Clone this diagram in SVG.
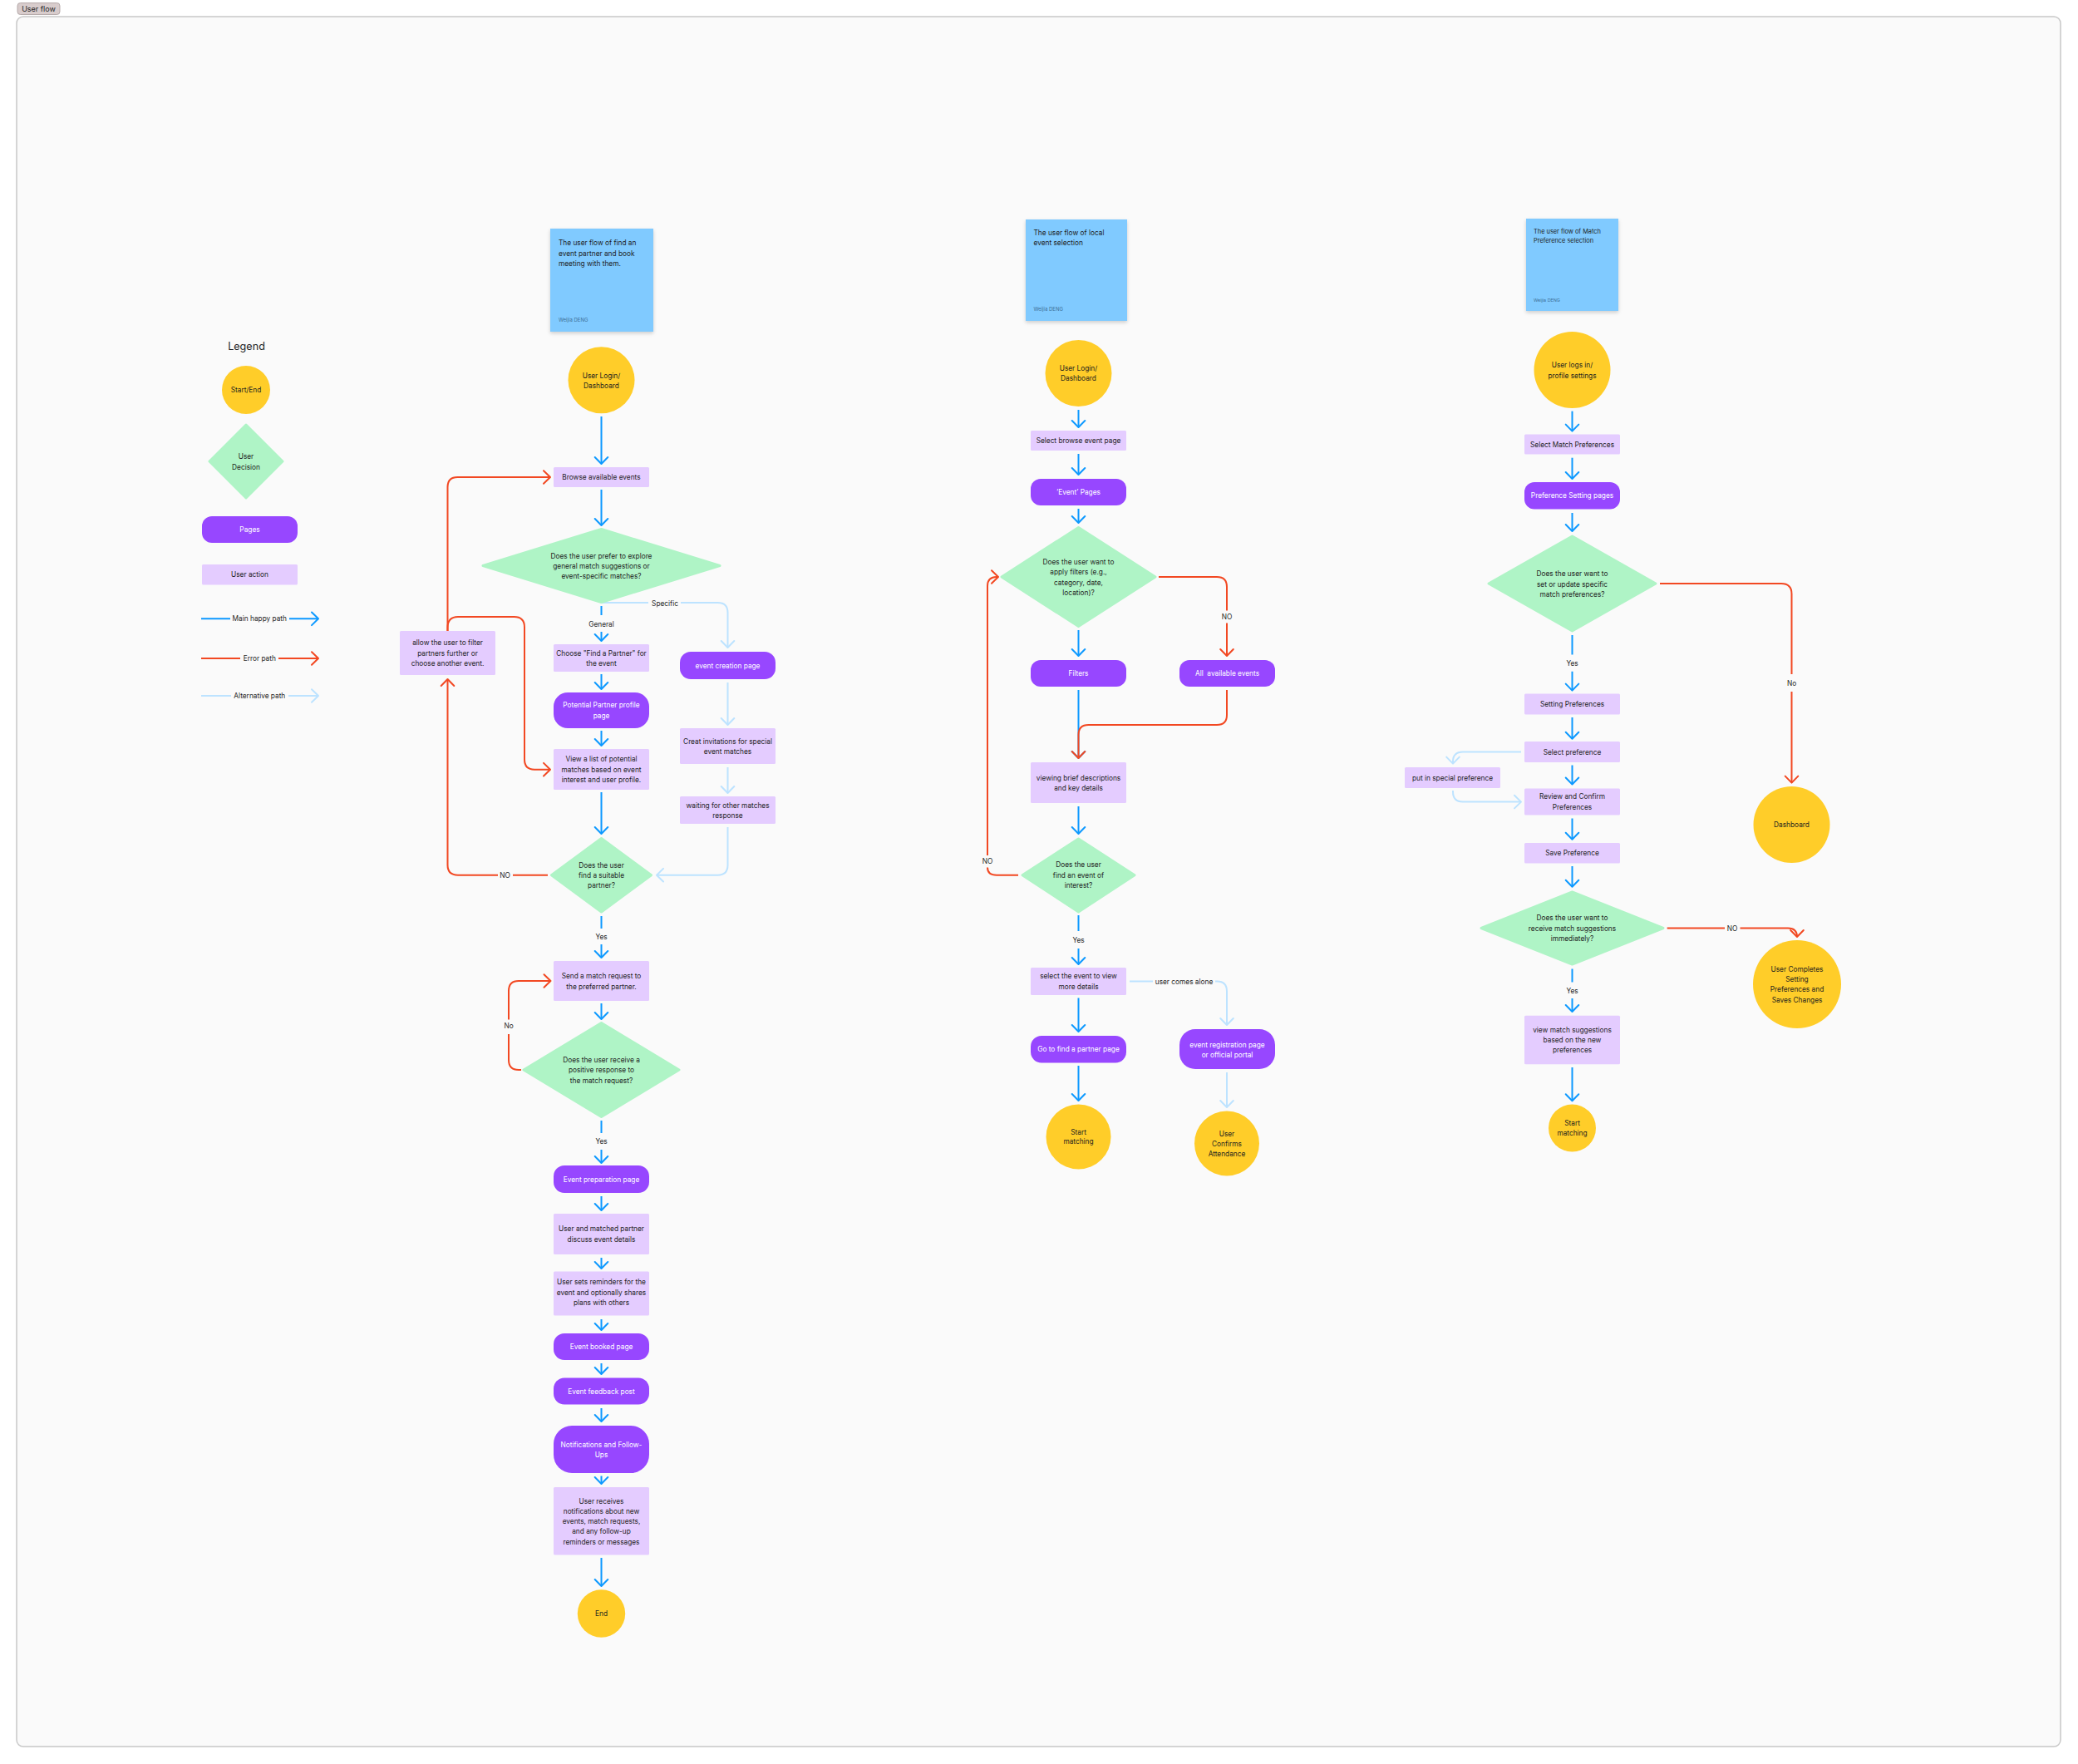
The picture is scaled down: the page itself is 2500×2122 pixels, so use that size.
<svg xmlns="http://www.w3.org/2000/svg" width="2500" height="2122" viewBox="0 0 2500 2122">
<defs>
<style>
.t{font-family:Inter,"Noto Sans","Liberation Sans",sans-serif;font-size:8.3px;fill:#1e1e1e;text-anchor:middle}
.tw{fill:#ffffff}
.tl{text-anchor:start}
.sig{font-size:6px;fill:#3d6f96;text-anchor:start}
.ua{fill:#e4ccff}
.pg{fill:#9747ff}
.se{fill:#ffcd29}
.dc{fill:#aff4c6;stroke:#aff4c6;stroke-width:3;stroke-linejoin:round}
.st{fill:#80caff;filter:url(#sh)}
.cb{fill:none;stroke:#0d99ff;stroke-width:2;marker-end:url(#mb)}
.cr{fill:none;stroke:#f24822;stroke-width:2;marker-end:url(#mr)}
.cl{fill:none;stroke:#bde3ff;stroke-width:2;marker-end:url(#ml)}
.nb{fill:none;stroke:#0d99ff;stroke-width:2}
.nr{fill:none;stroke:#f24822;stroke-width:2}
.nl{fill:none;stroke:#bde3ff;stroke-width:2}
</style>
<filter id="sh" x="-20%" y="-20%" width="140%" height="150%"><feDropShadow dx="0" dy="2" stdDeviation="2" flood-color="#000" flood-opacity="0.18"/></filter>
<marker id="mb" viewBox="-10 -10 20 20" markerWidth="20" markerHeight="20" refX="0" refY="0" orient="auto" markerUnits="userSpaceOnUse"><path d="M-8,-7.8 L0,0 L-8,7.8" fill="none" stroke="#0d99ff" stroke-width="2" stroke-linecap="round" stroke-linejoin="round"/></marker>
<marker id="mr" viewBox="-10 -10 20 20" markerWidth="20" markerHeight="20" refX="0" refY="0" orient="auto" markerUnits="userSpaceOnUse"><path d="M-8,-7.8 L0,0 L-8,7.8" fill="none" stroke="#f24822" stroke-width="2" stroke-linecap="round" stroke-linejoin="round"/></marker>
<marker id="ml" viewBox="-10 -10 20 20" markerWidth="20" markerHeight="20" refX="0" refY="0" orient="auto" markerUnits="userSpaceOnUse"><path d="M-8,-7.8 L0,0 L-8,7.8" fill="none" stroke="#bde3ff" stroke-width="2" stroke-linecap="round" stroke-linejoin="round"/></marker>
</defs>
<rect x="0" y="0" width="2500" height="2122" fill="#ffffff"/>
<g id="frame">
<rect x="20" y="20" width="2459" height="2081" rx="8" fill="#fafafa" stroke="#c8c8c8" stroke-width="1.5"/>
<rect x="21" y="3.5" width="51" height="14" rx="3.5" fill="#d8cccc" stroke="#a89c9c" stroke-width="0.8"/>
<text class="t" x="46.5" y="13.6" style="font-size:9px">User flow</text>
</g>

<g id="legend">
<text class="t" x="296.5" y="421" style="font-size:12.6px">Legend</text>
<circle class="se" cx="296" cy="469" r="29"/>
<text class="t" x="296" y="472">Start/End</text>
<polygon class="dc" points="296,511 340,555 296,599 252,555"/>
<text class="t" x="296"><tspan x="296" y="552">User</tspan><tspan x="296" y="564.5">Decision</tspan></text>
<rect class="pg" x="243" y="621" width="115" height="32" rx="12"/>
<text class="t tw" x="300.5" y="640">Pages</text>
<rect class="ua" x="243" y="679" width="115" height="24.5" rx="1.5"/>
<text class="t" x="300.5" y="694">User action</text>
<path class="nb" d="M242,744.3 L277,744.3"/>
<path class="cb" d="M348,744.3 L383,744.3"/>
<text class="t" x="312.3" y="747.3">Main happy path</text>
<path class="nr" d="M242,792 L289,792"/>
<path class="cr" d="M335,792 L383,792"/>
<text class="t" x="312.3" y="795">Error path</text>
<path class="nl" d="M242,837 L278,837"/>
<path class="cl" d="M347,837 L383,837"/>
<text class="t" x="312.3" y="840">Alternative path</text>
</g>

<g id="connectors">
<!-- flow 1 -->
<path class="cb" d="M723.5,501 L723.5,558"/>
<path class="cb" d="M723.5,589 L723.5,632"/>
<path class="cb" d="M723.5,729 L723.5,740 M723.5,760 L723.5,771"/>
<path class="cl" d="M723.5,725 L780,725 M819,725 L863.5,725 Q875.5,725 875.5,737 L875.5,779"/>
<path class="cb" d="M723.5,811 L723.5,829"/>
<path class="cb" d="M723.5,879 L723.5,897"/>
<path class="cb" d="M723.5,953 L723.5,1003"/>
<path class="cl" d="M875.5,821 L875.5,872"/>
<path class="cl" d="M875.5,923 L875.5,954"/>
<path class="cl" d="M875.5,995 L875.5,1040.5 Q875.5,1052.7 863.5,1052.7 L790,1052.7"/>
<path class="cr" d="M659,1052.7 L617,1052.7 M599,1052.7 L551,1052.7 Q538.5,1052.7 538.5,1040.5 L538.5,817"/>
<path class="cr" d="M538.5,759 L538.5,586 Q538.5,574 550.5,574 L662,574"/>
<path class="cr" d="M538.5,759 L538.5,755 Q538.5,742 551,742 L618.5,742 Q631,742 631,754.5 L631,913.5 Q631,925.7 643,925.7 L662,925.7"/>
<path class="cb" d="M723.5,1102 L723.5,1117 M723.5,1136 L723.5,1152"/>
<path class="cb" d="M723.5,1207 L723.5,1226"/>
<path class="cr" d="M627,1287 L624,1287 Q612,1287 612,1275 L612,1244 M612,1226.5 L612,1192 Q612,1180 624,1180 L662.5,1180"/>
<path class="cb" d="M723.5,1348 L723.5,1363 M723.5,1383 L723.5,1399"/>
<path class="cb" d="M723.5,1439 L723.5,1456"/>
<path class="cb" d="M723.5,1513 L723.5,1526"/>
<path class="cb" d="M723.5,1587 L723.5,1600"/>
<path class="cb" d="M723.5,1640 L723.5,1653"/>
<path class="cb" d="M723.5,1694 L723.5,1710"/>
<path class="cb" d="M723.5,1775.5 L723.5,1785"/>
<path class="cb" d="M723.5,1874 L723.5,1908"/>
<!-- flow 2 -->
<path class="cb" d="M1297.5,493 L1297.5,514"/>
<path class="cb" d="M1297.5,546 L1297.5,571"/>
<path class="cb" d="M1297.5,612 L1297.5,629"/>
<path class="cb" d="M1297.5,758 L1297.5,789"/>
<path class="cr" d="M1394,694 L1464,694 Q1476,694 1476,706 L1476,734.5 M1476,749.5 L1476,789"/>
<path class="cb" d="M1297.5,830 L1297.5,912"/>
<path class="cr" d="M1476,830 L1476,860 Q1476,872 1464,872 L1309.5,872 Q1297.5,872 1297.5,884 L1297.5,912"/>
<path class="cb" d="M1297.5,970 L1297.5,1003"/>
<path class="cr" d="M1225,1052.7 L1199,1052.7 Q1188,1052.7 1188,1043.5 M1188,1029 L1188,705 Q1188,694 1199,694 L1201,694"/>
<path class="cb" d="M1297.5,1101 L1297.5,1120 M1297.5,1141 L1297.5,1160"/>
<path class="cl" d="M1359,1180.5 L1387,1180.5 M1462,1180.5 L1464,1180.5 Q1476,1180.5 1476,1192.5 L1476,1233"/>
<path class="cb" d="M1297.5,1200.5 L1297.5,1241"/>
<path class="cb" d="M1297.5,1282 L1297.5,1324"/>
<path class="cl" d="M1476,1290 L1476,1332"/>
<!-- flow 3 -->
<path class="cb" d="M1891.5,494.6 L1891.5,518.6"/>
<path class="cb" d="M1891.5,550.7 L1891.5,576"/>
<path class="cb" d="M1891.5,617 L1891.5,639"/>
<path class="cr" d="M1997,702 L2143,702 Q2155.5,702 2155.5,714.5 L2155.5,811 M2155.5,832 L2155.5,941.6"/>
<path class="cb" d="M1891.5,764 L1891.5,787.5 M1891.5,807.7 L1891.5,830.6"/>
<path class="cb" d="M1891.5,863 L1891.5,888.8"/>
<path class="cl" d="M1830,904.5 L1760,904.5 Q1748,904.5 1748,916 L1748,918.6"/>
<path class="cb" d="M1891.5,920.5 L1891.5,943.5"/>
<path class="cl" d="M1748,951 L1748,952.6 Q1748,964.6 1760,964.6 L1830,964.6"/>
<path class="cb" d="M1891.5,984.5 L1891.5,1009.7"/>
<path class="cb" d="M1891.5,1042 L1891.5,1066.7"/>
<path class="cr" d="M2005.7,1116.5 L2075,1116.5 M2093.5,1116.5 L2151,1116.5 Q2162,1116.5 2162,1127"/>
<path class="cb" d="M1891.5,1165.5 L1891.5,1181.5 M1891.5,1201 L1891.5,1217"/>
<path class="cb" d="M1891.5,1284 L1891.5,1324.3"/>
<!-- connector labels -->
<text class="t" x="723.5" y="753.7">General</text>
<text class="t" x="800" y="728.7">Specific</text>
<text class="t" x="607.5" y="1055.7">NO</text>
<text class="t" x="723.5" y="1129.7">Yes</text>
<text class="t" x="612" y="1237">No</text>
<text class="t" x="723.5" y="1376.3">Yes</text>
<text class="t" x="1476" y="744.8">NO</text>
<text class="t" x="1188" y="1039">NO</text>
<text class="t" x="1297.5" y="1134">Yes</text>
<text class="t" x="1424.5" y="1183.5">user comes alone</text>
<text class="t" x="2155.5" y="824.8">No</text>
<text class="t" x="1891.5" y="800.5">Yes</text>
<text class="t" x="2084" y="1119.5">NO</text>
<text class="t" x="1891.5" y="1194.5">Yes</text>
</g>

<!-- FLOW 1 -->
<g id="note1"><rect class="st" x="662" y="275" width="124" height="124"/>
<text class="t tl" x="672"><tspan x="672" y="295.3">The user flow of find an</tspan><tspan x="672" y="307.6">event partner and book</tspan><tspan x="672" y="319.9">meeting with them.</tspan></text>
<text class="t sig" x="672" y="386.5">Weijia DENG</text></g>
<g id="f1-start"><circle class="se" cx="723.5" cy="457.3" r="40"/>
<text class="t"><tspan x="723.5" y="455">User Login/</tspan><tspan x="723.5" y="467">Dashboard</tspan></text></g>
<g id="f1-browse"><rect class="ua" x="666" y="562" width="115" height="24" rx="1.5"/>
<text class="t" x="723.5" y="577">Browse available events</text></g>
<g id="f1-d1"><polygon class="dc" points="723.5,636.5 866,680.5 723.5,724.5 581,680.5"/>
<text class="t"><tspan x="723.5" y="671.7">Does the user prefer to explore</tspan><tspan x="723.5" y="684">general match suggestions or</tspan><tspan x="723.5" y="696.3">event-specific matches?</tspan></text></g>
<g id="f1-choose"><rect class="ua" x="666" y="775" width="115" height="33" rx="1.5"/>
<text class="t"><tspan x="723.5" y="788.7">Choose "Find a Partner" for</tspan><tspan x="723.5" y="801">the event</tspan></text></g>
<g id="f1-potential"><rect class="pg" x="666" y="833" width="115" height="43" rx="17"/>
<text class="t tw"><tspan x="723.5" y="851.3">Potential Partner profile</tspan><tspan x="723.5" y="864">page</tspan></text></g>
<g id="f1-viewlist"><rect class="ua" x="666" y="901" width="115" height="49" rx="1.5"/>
<text class="t"><tspan x="723.5" y="916.3">View a list of potential</tspan><tspan x="723.5" y="928.7">matches based on event</tspan><tspan x="723.5" y="940.7">interest and user profile.</tspan></text></g>
<g id="f1-allow"><rect class="ua" x="481" y="759" width="115" height="53" rx="1.5"/>
<text class="t"><tspan x="538.5" y="776.3">allow the user to filter</tspan><tspan x="538.5" y="788.7">partners further or</tspan><tspan x="538.5" y="801">choose another event.</tspan></text></g>
<g id="f1-creation"><rect class="pg" x="818" y="784" width="115" height="33" rx="13"/>
<text class="t tw" x="875.5" y="803.7">event creation page</text></g>
<g id="f1-invite"><rect class="ua" x="818" y="876" width="115" height="43" rx="1.5"/>
<text class="t"><tspan x="875.5" y="894.7">Creat invitations for special</tspan><tspan x="875.5" y="907">event matches</tspan></text></g>
<g id="f1-waiting"><rect class="ua" x="818" y="958" width="115" height="33" rx="1.5"/>
<text class="t"><tspan x="875.5" y="971.7">waiting for other matches</tspan><tspan x="875.5" y="984">response</tspan></text></g>
<g id="f1-d2"><polygon class="dc" points="723.5,1008.5 783.5,1052.7 723.5,1097 663.5,1052.7"/>
<text class="t"><tspan x="723.5" y="1043.7">Does the user</tspan><tspan x="723.5" y="1055.7">find a suitable</tspan><tspan x="723.5" y="1068.3">partner?</tspan></text></g>
<g id="f1-send"><rect class="ua" x="666" y="1156" width="115" height="48" rx="1.5"/>
<text class="t"><tspan x="723.5" y="1177">Send a match request to</tspan><tspan x="723.5" y="1190.3">the preferred partner.</tspan></text></g>
<g id="f1-d3"><polygon class="dc" points="723.5,1230.5 817,1287 723.5,1343.5 630,1287"/>
<text class="t"><tspan x="723.5" y="1278">Does the user receive a</tspan><tspan x="723.5" y="1290.3">positive response to</tspan><tspan x="723.5" y="1303">the match request?</tspan></text></g>
<g id="f1-prep"><rect class="pg" x="666" y="1402" width="115" height="33" rx="13"/>
<text class="t tw" x="723.5" y="1421.5">Event preparation page</text></g>
<g id="f1-discuss"><rect class="ua" x="666" y="1460" width="115" height="49" rx="1.5"/>
<text class="t"><tspan x="723.5" y="1481.4">User and matched partner</tspan><tspan x="723.5" y="1493.6">discuss event details</tspan></text></g>
<g id="f1-remind"><rect class="ua" x="666" y="1529.5" width="115" height="53" rx="1.5"/>
<text class="t"><tspan x="723.5" y="1545.4">User sets reminders for the</tspan><tspan x="723.5" y="1557.6">event and optionally shares</tspan><tspan x="723.5" y="1569.8">plans with others</tspan></text></g>
<g id="f1-booked"><rect class="pg" x="666" y="1604" width="115" height="32" rx="13"/>
<text class="t tw" x="723.5" y="1623">Event booked page</text></g>
<g id="f1-feedback"><rect class="pg" x="666" y="1657.5" width="115" height="32" rx="13"/>
<text class="t tw" x="723.5" y="1676.6">Event feedback post</text></g>
<g id="f1-notif"><rect class="pg" x="666" y="1715" width="115" height="57" rx="22"/>
<text class="t tw"><tspan x="723.5" y="1740.8">Notifications and Follow-</tspan><tspan x="723.5" y="1752.6">Ups</tspan></text></g>
<g id="f1-receives"><rect class="ua" x="666" y="1789" width="115" height="81.5" rx="1.5"/>
<text class="t"><tspan x="723.5" y="1808.8">User receives</tspan><tspan x="723.5" y="1821">notifications about new</tspan><tspan x="723.5" y="1833.2">events, match requests,</tspan><tspan x="723.5" y="1845.4">and any follow-up</tspan><tspan x="723.5" y="1857.6">reminders or messages</tspan></text></g>
<g id="f1-end"><circle class="se" cx="723.5" cy="1941" r="28.7"/>
<text class="t" x="723.5" y="1944">End</text></g>

<!-- FLOW 2 -->
<g id="note2"><rect class="st" x="1234" y="264" width="122" height="122"/>
<text class="t tl"><tspan x="1243.5" y="282.6">The user flow of local</tspan><tspan x="1243.5" y="295.1">event selection</tspan></text>
<text class="t sig" x="1243.5" y="374">Weijia DENG</text></g>
<g id="f2-start"><circle class="se" cx="1297.5" cy="449" r="40"/>
<text class="t"><tspan x="1297.5" y="446.2">User Login/</tspan><tspan x="1297.5" y="458.4">Dashboard</tspan></text></g>
<g id="f2-select"><rect class="ua" x="1240" y="518" width="115" height="24" rx="1.5"/>
<text class="t" x="1297.5" y="533">Select browse event page</text></g>
<g id="f2-eventpages"><rect class="pg" x="1240" y="576" width="115" height="32" rx="12"/>
<text class="t tw" x="1297.5" y="595">‘Event’ Pages</text></g>
<g id="f2-d1"><polygon class="dc" points="1297.5,634.5 1390,694 1297.5,753.5 1205,694"/>
<text class="t"><tspan x="1297.5" y="678.7">Does the user want to</tspan><tspan x="1297.5" y="691.2">apply filters (e.g.,</tspan><tspan x="1297.5" y="703.7">category, date,</tspan><tspan x="1297.5" y="715.9">location)?</tspan></text></g>
<g id="f2-filters"><rect class="pg" x="1240" y="794" width="115" height="32" rx="12"/>
<text class="t tw" x="1297.5" y="813">Filters</text></g>
<g id="f2-all"><rect class="pg" x="1419" y="794" width="115" height="32" rx="12"/>
<text class="t tw" x="1476.5" y="813">All&#160; available events</text></g>
<g id="f2-viewing"><rect class="ua" x="1240" y="917" width="115" height="49" rx="1.5"/>
<text class="t"><tspan x="1297.5" y="938.6">viewing brief descriptions</tspan><tspan x="1297.5" y="951.3">and key details</tspan></text></g>
<g id="f2-d2"><polygon class="dc" points="1297.5,1009 1365,1052.7 1297.5,1097 1230,1052.7"/>
<text class="t"><tspan x="1297.5" y="1043.4">Does the user</tspan><tspan x="1297.5" y="1055.6">find an event of</tspan><tspan x="1297.5" y="1068">interest?</tspan></text></g>
<g id="f2-selectevent"><rect class="ua" x="1240" y="1164" width="115" height="33" rx="1.5"/>
<text class="t"><tspan x="1297.5" y="1177">select the event to view</tspan><tspan x="1297.5" y="1189.7">more details</tspan></text></g>
<g id="f2-reg"><rect class="pg" x="1419" y="1238" width="115" height="48" rx="19"/>
<text class="t tw"><tspan x="1476.5" y="1259.7">event registration page</tspan><tspan x="1476.5" y="1272.4">or official portal</tspan></text></g>
<g id="f2-find"><rect class="pg" x="1240" y="1246" width="115" height="32.5" rx="13"/>
<text class="t tw" x="1297.5" y="1265.3">Go to find a partner page</text></g>
<g id="f2-startmatch"><circle class="se" cx="1297.5" cy="1367.5" r="39"/>
<text class="t"><tspan x="1297.5" y="1364.5">Start</tspan><tspan x="1297.5" y="1376.4">matching</tspan></text></g>
<g id="f2-confirm"><circle class="se" cx="1476" cy="1375.5" r="39"/>
<text class="t"><tspan x="1476" y="1366.5">User</tspan><tspan x="1476" y="1378.7">Confirms</tspan><tspan x="1476" y="1391">Attendance</tspan></text></g>

<!-- FLOW 3 -->
<g id="note3"><rect class="st" x="1836" y="263" width="111" height="111"/>
<text class="t tl" style="font-size:7.4px"><tspan x="1845" y="281.3">The user flow of Match</tspan><tspan x="1845" y="292.3">Preference selection</tspan></text>
<text class="t sig" x="1845" y="363.3" style="font-size:5.4px">Weijia DENG</text></g>
<g id="f3-start"><circle class="se" cx="1891.5" cy="445" r="46"/>
<text class="t"><tspan x="1891.5" y="442.3">User logs in/</tspan><tspan x="1891.5" y="454.8">profile settings</tspan></text></g>
<g id="f3-selectmatch"><rect class="ua" x="1834" y="522.5" width="115" height="24" rx="1.5"/>
<text class="t" x="1891.5" y="537.6">Select Match Preferences</text></g>
<g id="f3-prefpages"><rect class="pg" x="1834" y="580" width="115" height="32.5" rx="12"/>
<text class="t tw" x="1891.5" y="599.3">Preference Setting pages</text></g>
<g id="f3-d1"><polygon class="dc" points="1891.5,645 1992,702 1891.5,759 1791,702"/>
<text class="t"><tspan x="1891.5" y="693">Does the user want to</tspan><tspan x="1891.5" y="705.5">set or update specific</tspan><tspan x="1891.5" y="718">match preferences?</tspan></text></g>
<g id="f3-dashboard"><circle class="se" cx="2155.5" cy="992" r="46"/>
<text class="t" x="2155.5" y="995">Dashboard</text></g>
<g id="f3-setting"><rect class="ua" x="1834" y="834.5" width="115" height="25" rx="1.5"/>
<text class="t" x="1891.5" y="850">Setting Preferences</text></g>
<g id="f3-selectpref"><rect class="ua" x="1834" y="892" width="115" height="25" rx="1.5"/>
<text class="t" x="1891.5" y="907.5">Select preference</text></g>
<g id="f3-special"><rect class="ua" x="1690" y="923" width="115" height="25" rx="1.5"/>
<text class="t" x="1747.5" y="938.5">put in special preference</text></g>
<g id="f3-review"><rect class="ua" x="1834" y="948.5" width="115" height="32" rx="1.5"/>
<text class="t"><tspan x="1891.5" y="961">Review and Confirm</tspan><tspan x="1891.5" y="973.7">Preferences</tspan></text></g>
<g id="f3-save"><rect class="ua" x="1834" y="1014" width="115" height="24.5" rx="1.5"/>
<text class="t" x="1891.5" y="1029.2">Save Preference</text></g>
<g id="f3-d2"><polygon class="dc" points="1891.5,1073 2001,1116.5 1891.5,1160 1782,1116.5"/>
<text class="t"><tspan x="1891.5" y="1107.2">Does the user want to</tspan><tspan x="1891.5" y="1119.9">receive match suggestions</tspan><tspan x="1891.5" y="1132.1">immediately?</tspan></text></g>
<g id="f3-completes"><circle class="se" cx="2162" cy="1184" r="53"/>
<text class="t"><tspan x="2162" y="1168.5">User Completes</tspan><tspan x="2162" y="1180.7">Setting</tspan><tspan x="2162" y="1193">Preferences and</tspan><tspan x="2162" y="1205.6">Saves Changes</tspan></text></g>
<g id="f3-suggest"><rect class="ua" x="1834" y="1221.7" width="115" height="58.6" rx="1.5"/>
<text class="t"><tspan x="1891.5" y="1242">view match suggestions</tspan><tspan x="1891.5" y="1254.2">based on the new</tspan><tspan x="1891.5" y="1266.4">preferences</tspan></text></g>
<g id="f3-startmatch"><circle class="se" cx="1891.5" cy="1357" r="28.5"/>
<text class="t"><tspan x="1891.5" y="1354">Start</tspan><tspan x="1891.5" y="1366.3">matching</tspan></text></g>
</svg>
